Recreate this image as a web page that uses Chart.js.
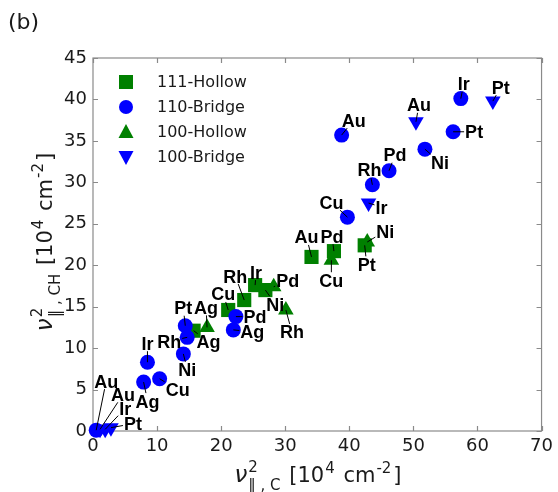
<!DOCTYPE html>
<html>
<head>
<meta charset="utf-8">
<script src="https://cdn.jsdelivr.net/npm/chart.js@4.4.1/dist/chart.umd.min.js"></script>
<style>
  html, body { margin: 0; padding: 0; background: #fff; }
  #wrap { width: 558px; height: 492px; }
</style>
</head>
<body>
<div id="wrap"><canvas id="chart" width="558" height="492"></canvas></div>
<script>
// 111-Hollow (green squares)
const hollow111Names = ['Au', 'Pd', 'Pt', 'Ir', 'Ni', 'Rh', 'Cu', 'Ag'];
const hollow111X = [34.1, 37.6, 42.4, 25.3, 26.9, 23.6, 21.1, 15.7];
const hollow111Y = [21.0, 21.7, 22.4, 17.6, 17.0, 15.8, 14.6, 12.1];

// 110-Bridge (blue circles)
const bridge110Names = ['Au', 'Ir', 'Pt', 'Ni', 'Pd', 'Rh', 'Cu', 'Pd', 'Ag', 'Pt', 'Rh', 'Ni', 'Ir', 'Cu', 'Ag', 'Au'];
const bridge110X = [38.8, 57.4, 56.2, 51.8, 46.2, 43.6, 39.7, 22.3, 21.9, 14.4, 14.7, 14.1, 8.5, 10.4, 7.9, 0.5];
const bridge110Y = [35.7, 40.1, 36.1, 34.0, 31.4, 29.7, 25.8, 13.8, 12.2, 12.7, 11.3, 9.3, 8.3, 6.3, 5.9, 0.1];

// 100-Hollow (green triangles)
const hollow100Names = ['Ni', 'Cu', 'Pd', 'Rh', 'Ag'];
const hollow100X = [42.8, 37.2, 28.2, 30.1, 17.8];
const hollow100Y = [22.8, 20.6, 17.4, 14.6, 12.5];

// 100-Bridge (blue down triangles)
const bridge100Names = ['Pt', 'Au', 'Ir', 'Au', 'Ir', 'Pt'];
const bridge100X = [62.4, 50.4, 43.0, 1.1, 1.9, 2.8];
const bridge100Y = [39.8, 37.3, 27.5, 0.2, 0.2, 0.4];

const xTicks = [0, 10, 20, 30, 40, 50, 60, 70];
const yTicks = [0, 5, 10, 15, 20, 25, 30, 35, 40, 45];

// where each name label sits, in px from its marker
const hollow111LabelPos = [[-5, -20], [-2, -15], [2, 19], [1, -13], [10, 14], [-9, -24], [-5, -16], [15, 11]];
const bridge110LabelPos = [[12, -15], [3, -15], [21, 0], [15, 13], [6, -16], [-3, -15], [-16, -15],
  [19, 0], [19, 2], [-2, -18], [-18, 4], [4, 16], [0, -19], [18, 11], [4, 19], [10, -49]];
const hollow100LabelPos = [[18, -11], [0, 20], [14, -6], [6, 22], [-1, -20]];
const bridge100LabelPos = [[8, -14], [3, -17], [13, 4], [23, -35], [20, -21], [22, -4]];

const GREEN = '#008000';
const BLUE = '#0000ff';
const FONT = "'DejaVu Sans', sans-serif";
const LABEL_FONT = "bold 18px 'Liberation Sans', Arial, sans-serif";

function points(xs, ys) {
    return xs.map((x, i) => ({ x: x, y: ys[i] }));
}

function drawMarker(ctx, style, x, y, color) {
    ctx.save();
    ctx.fillStyle = color;
    ctx.beginPath();
    if (style === 'rect') {
        ctx.rect(x - 7, y - 7, 14, 14);
    } else if (style === 'circle') {
        ctx.arc(x, y, 7, 0, Math.PI * 2);
    } else if (style === 'up') {
        ctx.moveTo(x, y - 8); ctx.lineTo(x + 7.5, y + 6); ctx.lineTo(x - 7.5, y + 6);
    } else {
        ctx.moveTo(x, y + 8); ctx.lineTo(x + 7.5, y - 6); ctx.lineTo(x - 7.5, y - 6);
    }
    ctx.closePath();
    ctx.fill();
    ctx.restore();
}

// text pieces drawn one after another, stacked pieces share one x
function drawMath(ctx, parts, cx, baseY) {
    let total = 0;
    parts.forEach(p => {
        if (p.stack) {
            p.w = Math.max(...p.stack.map(s => { ctx.font = s.f; return ctx.measureText(s.t).width; }));
        } else {
            ctx.font = p.f;
            p.w = ctx.measureText(p.t).width;
        }
        p.w += p.gap || 0;
        total += p.w;
    });
    let x = cx - total / 2;
    ctx.textAlign = 'left';
    ctx.textBaseline = 'alphabetic';
    parts.forEach(p => {
        const list = p.stack ? p.stack : [p];
        list.forEach(s => {
            ctx.font = s.f;
            ctx.fillText(s.t, x, baseY + (s.dy || 0));
        });
        x += p.w;
    });
}

function axisTitle(sub) {
    const big = '21px ' + FONT, small = '15px ' + FONT, nu = 'italic 23px ' + FONT;
    return [
        { t: 'ν', f: nu, gap: 1 },
        { stack: [{ t: '2', f: small, dy: -10 }, { t: '‖ , ' + sub, f: small, dy: 8 }], gap: 2 },
        { t: ' [10', f: big, gap: 1 },
        { t: '4', f: small, dy: -9, gap: 2 },
        { t: ' cm', f: big, gap: 1 },
        { t: '-2', f: small, dy: -9, gap: 2 },
        { t: ']', f: big }
    ];
}

const framePlugin = {
    id: 'frame',
    beforeDatasetsDraw(chart) {
        const ctx = chart.ctx;
        const a = chart.chartArea;
        const xs = chart.scales.x, ys = chart.scales.y;
        ctx.save();
        ctx.strokeStyle = '#8a8a8a';
        ctx.lineWidth = 1.2;
        ctx.strokeRect(a.left, a.top, a.right - a.left, a.bottom - a.top);
        ctx.beginPath();
        xTicks.forEach(v => {
            const px = Math.round(xs.getPixelForValue(v)) + 0.5;
            ctx.moveTo(px, a.bottom); ctx.lineTo(px, a.bottom - 5);
            ctx.moveTo(px, a.top); ctx.lineTo(px, a.top + 5);
        });
        yTicks.forEach(v => {
            const py = Math.round(ys.getPixelForValue(v)) + 0.5;
            ctx.moveTo(a.left, py); ctx.lineTo(a.left + 5, py);
            ctx.moveTo(a.right, py); ctx.lineTo(a.right - 5, py);
        });
        ctx.stroke();
        ctx.restore();
    },
    afterDatasetsDraw(chart) {
        const ctx = chart.ctx;
        ctx.save();
        ctx.font = LABEL_FONT;
        ctx.fillStyle = '#000';
        ctx.strokeStyle = '#000';
        ctx.lineWidth = 1;
        ctx.textAlign = 'center';
        ctx.textBaseline = 'alphabetic';
        chart.data.datasets.forEach((ds, di) => {
            const meta = chart.getDatasetMeta(di);
            meta.data.forEach((el, i) => {
                const name = ds.names[i];
                const off = ds.labelPos[i];
                const lx = el.x + off[0], ly = el.y + off[1];
                const hw = ctx.measureText(name).width / 2 + 1, hh = 8;
                const dx = off[0], dy = off[1];
                const s = Math.min(dx ? hw / Math.abs(dx) : Infinity, dy ? hh / Math.abs(dy) : Infinity);
                if (s < 1) {
                    ctx.beginPath();
                    ctx.moveTo(el.x, el.y);
                    ctx.lineTo(lx - dx * s, ly - dy * s);
                    ctx.stroke();
                }
                ctx.fillText(name, lx, ly + 6.5);
            });
        });
        ctx.restore();
    },
    afterDraw(chart) {
        const ctx = chart.ctx;
        const a = chart.chartArea;
        ctx.save();
        ctx.fillStyle = '#1a1a1a';

        // legend
        const entries = [['111-Hollow', 'rect', GREEN], ['110-Bridge', 'circle', BLUE],
            ['100-Hollow', 'up', GREEN], ['100-Bridge', 'down', BLUE]];
        ctx.font = '16px ' + FONT;
        ctx.textAlign = 'left';
        ctx.textBaseline = 'middle';
        entries.forEach((e, i) => {
            const y = 82 + i * 25;
            drawMarker(ctx, e[1], 126, y, e[2]);
            ctx.fillText(e[0], 157, y + 1);
        });

        // panel tag
        ctx.font = '22px ' + FONT;
        ctx.fillText('(b)', 8, 23);

        // axis titles
        drawMath(ctx, axisTitle('C'), 318, 482);
        ctx.translate(52, 242);
        ctx.rotate(-Math.PI / 2);
        drawMath(ctx, axisTitle('CH'), 0, 0);
        ctx.restore();
    }
};

const datasets = [
    { label: '111-Hollow', data: points(hollow111X, hollow111Y), names: hollow111Names, labelPos: hollow111LabelPos,
      pointStyle: 'rect', pointRadius: 10, backgroundColor: GREEN, borderColor: GREEN, borderWidth: 0, order: 4 },
    { label: '110-Bridge', data: points(bridge110X, bridge110Y), names: bridge110Names, labelPos: bridge110LabelPos,
      pointStyle: 'circle', pointRadius: 7.5, backgroundColor: BLUE, borderColor: BLUE, borderWidth: 0, order: 3 },
    { label: '100-Hollow', data: points(hollow100X, hollow100Y), names: hollow100Names, labelPos: hollow100LabelPos,
      pointStyle: 'triangle', pointRadius: 9, backgroundColor: GREEN, borderColor: GREEN, borderWidth: 0, order: 2 },
    { label: '100-Bridge', data: points(bridge100X, bridge100Y), names: bridge100Names, labelPos: bridge100LabelPos,
      pointStyle: 'triangle', pointRotation: 180, pointRadius: 9, backgroundColor: BLUE, borderColor: BLUE, borderWidth: 0, order: 1 }
];
datasets.forEach(d => { d.clip = false; d.pointHoverRadius = d.pointRadius; });

new Chart(document.getElementById('chart'), {
    type: 'scatter',
    data: { datasets: datasets },
    options: {
        responsive: false,
        animation: false,
        events: [],
        layout: { padding: { left: 0, right: 14, top: 58, bottom: 0 } },
        plugins: { legend: { display: false }, tooltip: { enabled: false } },
        scales: {
            x: {
                min: 0, max: 70,
                afterBuildTicks: s => { s.ticks = xTicks.map(v => ({ value: v })); },
                afterFit: s => { s.height = 61; },
                grid: { display: false, drawTicks: false },
                border: { display: false },
                ticks: { padding: 5, color: '#1a1a1a', font: { family: FONT, size: 18 }, maxRotation: 0 }
            },
            y: {
                min: 0, max: 45,
                afterBuildTicks: s => { s.ticks = yTicks.map(v => ({ value: v })); },
                afterFit: s => { s.width = 93; },
                grid: { display: false, drawTicks: false },
                border: { display: false },
                ticks: { padding: 6, color: '#1a1a1a', font: { family: FONT, size: 18 } }
            }
        }
    },
    plugins: [framePlugin]
});
</script>
</body>
</html>
